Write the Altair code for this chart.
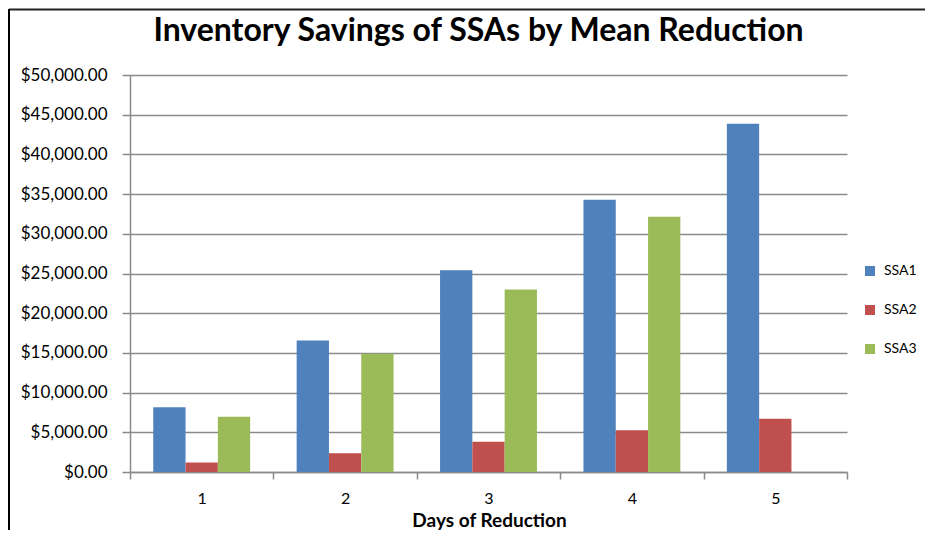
import altair as alt
import pandas as pd

days = ["1", "2", "3", "4", "5"]
series = ["SSA1", "SSA2", "SSA3"]
ssa1 = [8150, 16550, 25400, 34300, 43850]
ssa2 = [1200, 2350, 3800, 5250, 6700]
ssa3 = [6950, 14900, 23000, 32150, None]
colors = ["#4F81BD", "#C0504D", "#9BBB59"]
y_ticks = [0, 5000, 10000, 15000, 20000, 25000, 30000, 35000, 40000, 45000, 50000]
chart_title = "Inventory Savings of SSAs by Mean Reduction"
x_title = "Days of Reduction"

rows = []
for name, vals in zip(series, [ssa1, ssa2, ssa3]):
    for d, v in zip(days, vals):
        if v is not None:
            rows.append({"Day": d, "Series": name, "Savings": v})
df = pd.DataFrame(rows)

FONT = "Lato"

bars = alt.Chart(df).mark_bar().encode(
    x=alt.X("Day:N", sort=days,
            scale=alt.Scale(paddingInner=0, paddingOuter=0),
            axis=alt.Axis(title=None, labelAngle=0, tickBand="extent",
                          tickSize=7, labelPadding=11, labelFontSize=16, grid=False)),
    xOffset=alt.XOffset("Series:N", sort=series,
                        scale=alt.Scale(paddingInner=0, paddingOuter=0.72)),
    y=alt.Y("Savings:Q",
            scale=alt.Scale(domain=[0, 50000], nice=False),
            axis=alt.Axis(title=None, values=y_ticks, format="$,.2f", tickSize=8,
                          labelPadding=15, labelFontSize=17, grid=True)),
    color=alt.Color("Series:N", sort=series,
                    scale=alt.Scale(domain=series, range=colors),
                    legend=alt.Legend(title=None, orient="none", legendX=733, legendY=189,
                                      symbolType="square", symbolSize=100,
                                      symbolStrokeWidth=0, labelFontSize=14,
                                      labelOffset=7, rowPadding=25, labelFont=FONT,
                                      labelColor="#000000")),
)

frame = pd.DataFrame({"title": [chart_title], "xtitle": [x_title]})
top_border = alt.Chart(frame).mark_rule(color="#222222", strokeWidth=2).encode(
    x=alt.value(-121), x2=alt.value(800), y=alt.value(-65.5))
left_border = alt.Chart(frame).mark_rule(color="#000000", strokeWidth=2).encode(
    x=alt.value(-121), y=alt.value(-66), y2=alt.value(470))
title_text = alt.Chart(frame).mark_text(
    font=FONT, fontSize=32, fontWeight="bold", color="#000000",
    align="center", baseline="alphabetic").encode(
    text="title:N", x=alt.value(348.5), y=alt.value(-34))
xtitle_text = alt.Chart(frame).mark_text(
    font=FONT, fontSize=19, fontWeight="bold", color="#000000",
    align="center", baseline="alphabetic").encode(
    text="xtitle:N", x=alt.value(359.5), y=alt.value(452))

chart = alt.layer(bars, top_border, left_border, title_text, xtitle_text).properties(
    width=717, height=397,
    autosize=alt.AutoSizeParams(type="none"),
    padding={"left": 122, "top": 67, "right": 78, "bottom": 58},
).configure_axis(
    labelFont=FONT, titleFont=FONT, labelColor="#000000", titleColor="#000000",
    domainColor="#8a8a8a", tickColor="#8a8a8a", gridColor="#8a8a8a",
    domainWidth=1.5, tickWidth=1.5, gridWidth=1.5,
).configure_view(stroke=None)

chart.save("out.html", embed_options={"renderer": "svg", "actions": False})
